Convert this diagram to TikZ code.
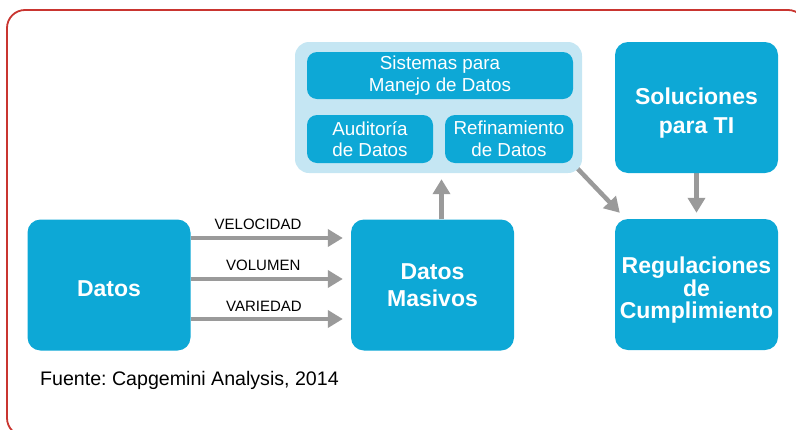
\documentclass[tikz,border=0pt]{standalone}
\usepackage{fontspec}
\setmainfont{Liberation Sans}
\usetikzlibrary{arrows.meta,calc,backgrounds}
\definecolor{boxblue}{HTML}{0DA8D6}
\definecolor{lightblue}{HTML}{C5E6F3}
\definecolor{arrgray}{HTML}{9A9A9A}
\definecolor{framered}{HTML}{C93530}
\frenchspacing
\begin{document}
\begin{tikzpicture}[x=1pt,y=-1pt,
  mainbox/.style={fill=boxblue, rounded corners=13pt, text=white, align=center, inner sep=0pt, minimum width=163pt, minimum height=131pt},
  subbox/.style={fill=boxblue, rounded corners=10pt, text=white, align=center, inner sep=0pt, font=\fontsize{18.8}{21.6}\selectfont},
  lbl/.style={anchor=base, inner sep=0pt, font=\fontsize{15}{18}\selectfont},
  arr/.style={draw=arrgray, line width=4.5pt, -{Triangle[length=15pt,width=17pt]}}
]
\useasboundingbox (0,0) rectangle (796,429);
\begin{scope}
\clip (0,0) rectangle (796,429);
\draw[framered, line width=1.8pt, rounded corners=18pt] (7,10) rectangle (806,436);
\end{scope}

\node[mainbox, font=\fontsize{23}{27}\selectfont\bfseries] (datos) at (109,285) {\rule{0pt}{24pt}Datos};
\node[mainbox, font=\fontsize{23}{26.7}\selectfont\bfseries] (masivos) at (432.5,285) {Datos\\Masivos};
\node[mainbox, font=\fontsize{23}{29}\selectfont\bfseries] (sol) at (696.5,107.5) {\rule{0pt}{27pt}Soluciones\\para TI};
\node[mainbox, font=\fontsize{23}{22.5}\selectfont\bfseries] (regul) at (696.5,284.5) {\rule{0pt}{28pt}Regulaciones\\de\\Cumplimiento};

\node[fill=lightblue, rounded corners=14pt, minimum width=287pt, minimum height=131pt, inner sep=0pt] (outer) at (438.5,107.5) {};
\node[subbox, minimum width=266pt, minimum height=47pt] (sist) at (440,75.5) {Sistemas para\\Manejo de Datos};
\node[subbox, minimum width=126pt, minimum height=48pt] (audit) at (370,139) {Auditoría\\de Datos};
\node[subbox, minimum width=128pt, minimum height=48pt] (refin) at (509,139) {Refinamiento\\de Datos};

\coordinate (r1) at (0,238);
\coordinate (r2) at (0,279);
\coordinate (r3) at (0,319);
\coordinate (upx) at (441.5,0);

\begin{scope}[on background layer]
\draw[arr] (datos.east |- r1) -- ($(masivos.west |- r1)+(-8,0)$);
\draw[arr] (datos.east |- r2) -- ($(masivos.west |- r2)+(-8,0)$);
\draw[arr] (datos.east |- r3) -- ($(masivos.west |- r3)+(-8,0)$);
\draw[arr] (masivos.north -| upx) -- ($(outer.south -| upx)+(0,6)$);
\draw[arr] ([shift={(-5,-5)}]outer.south east) -- ([shift={(5,-6)}]regul.north west);
\draw[arr] (sol.south) -- ($(regul.north)+(0,-6)$);
\end{scope}

\node[lbl] (l1) at (258,229.3) {VELOCIDAD};
\node[lbl] (l2) at (263.3,270) {VOLUMEN};
\node[lbl] (l3) at (264,311) {VARIEDAD};

\node[anchor=base west, inner sep=0pt, font=\fontsize{19.6}{23}\selectfont] (fuente) at (40,385) {Fuente: Capgemini Analysis, 2014};
\end{tikzpicture}
\end{document}
